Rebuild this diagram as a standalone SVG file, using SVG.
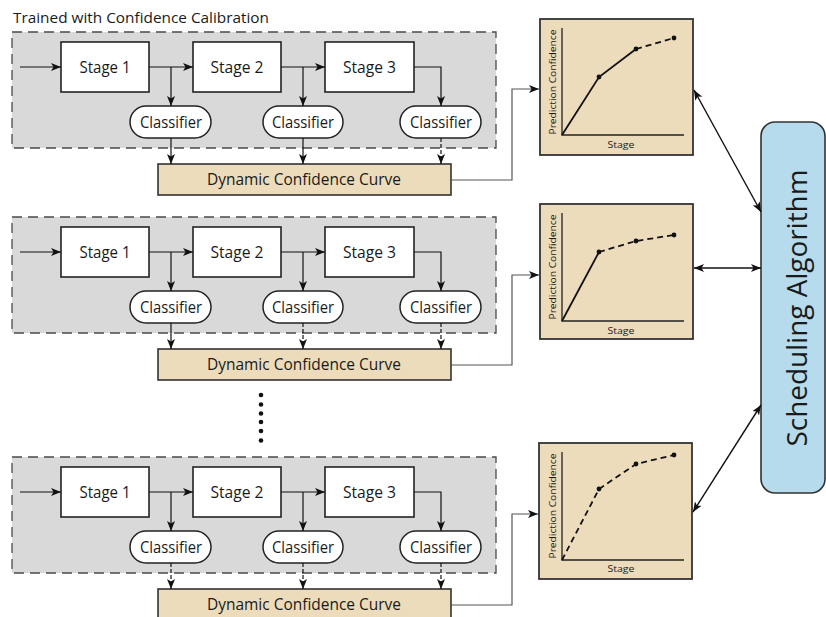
<svg xmlns="http://www.w3.org/2000/svg" width="826" height="617" viewBox="0 0 826 617">
  <style>
    text { font-family: "Open Sans", "Noto Sans", "DejaVu Sans", sans-serif; fill: #1a1a1a; }
    .group-box { fill: #d9d9d9; stroke: #4a4a4a; stroke-width: 1.3; stroke-dasharray: 10 6; }
    .stage { fill: #fff; stroke: #222; stroke-width: 1.6; }
    .clf { fill: #fff; stroke: #222; stroke-width: 1.5; }
    .dcc { fill: #ecdcbc; stroke: #333; stroke-width: 1.6; }
    .chart { fill: #ecdcbc; stroke: #333; stroke-width: 1.8; }
    .sched { fill: #b5dbec; stroke: #333; stroke-width: 1.6; }
    .lbl { font-size: 16px; text-anchor: middle; }
    .axis-lbl { font-size: 9.5px; text-anchor: middle; }
    .flow { fill: none; stroke: #111; stroke-width: 1.2; marker-end: url(#arr); }
    .flow-d { fill: none; stroke: #111; stroke-width: 1.2; stroke-dasharray: 4 2; marker-end: url(#arr); }
    .feed { fill: none; stroke: #555; stroke-width: 1.2; marker-end: url(#arr); }
    .bidir { fill: none; stroke: #111; stroke-width: 1.4; marker-start: url(#arr); marker-end: url(#arr); }
    .axis { fill: none; stroke: #222; stroke-width: 1.3; }
    .curve { fill: none; stroke: #111; stroke-width: 1.8; }
    .curve-d { fill: none; stroke: #111; stroke-width: 1.8; stroke-dasharray: 6 4; }
  </style>
  <defs>
    <marker id="arr" markerUnits="userSpaceOnUse" markerWidth="10" markerHeight="8" refX="10" refY="4" orient="auto-start-reverse">
      <path d="M0,0 L10,4 L0,8 L2.5,4 z" fill="#111"/>
    </marker>
  </defs>

  <text x="13" y="23" font-size="15" textLength="256" lengthAdjust="spacingAndGlyphs">Trained with Confidence Calibration</text>

  <!-- pipeline block 1 -->
  <g id="block1">
    <rect class="group-box" x="12" y="32" width="484" height="116"/>
    <g id="b1-stage1"><rect class="stage" x="61" y="42" width="88" height="50"/><text class="lbl" x="105" y="73" textLength="51" lengthAdjust="spacingAndGlyphs">Stage 1</text></g>
    <g id="b1-stage2"><rect class="stage" x="193" y="42" width="88" height="50"/><text class="lbl" x="237" y="73" textLength="53" lengthAdjust="spacingAndGlyphs">Stage 2</text></g>
    <g id="b1-stage3"><rect class="stage" x="325" y="42" width="89" height="50"/><text class="lbl" x="369.5" y="73" textLength="53" lengthAdjust="spacingAndGlyphs">Stage 3</text></g>
    <g id="b1-clf1"><rect class="clf" x="130" y="106" width="81" height="32" rx="16"/><text class="lbl" x="171" y="128" textLength="62" lengthAdjust="spacingAndGlyphs">Classifier</text></g>
    <g id="b1-clf2"><rect class="clf" x="263" y="106" width="80" height="32" rx="16"/><text class="lbl" x="303" y="128" textLength="62" lengthAdjust="spacingAndGlyphs">Classifier</text></g>
    <g id="b1-clf3"><rect class="clf" x="400" y="106" width="81" height="32" rx="16"/><text class="lbl" x="441" y="128" textLength="62" lengthAdjust="spacingAndGlyphs">Classifier</text></g>
    <g id="b1-dcc"><rect class="dcc" x="158" y="164" width="293" height="31"/><text class="lbl" x="304" y="185" textLength="194" lengthAdjust="spacingAndGlyphs">Dynamic Confidence Curve</text></g>
  </g>

  <!-- pipeline block 2 -->
  <g id="block2" transform="translate(0,185)">
    <rect class="group-box" x="12" y="32" width="484" height="116"/>
    <g id="b2-stage1"><rect class="stage" x="61" y="42" width="88" height="50"/><text class="lbl" x="105" y="73" textLength="51" lengthAdjust="spacingAndGlyphs">Stage 1</text></g>
    <g id="b2-stage2"><rect class="stage" x="193" y="42" width="88" height="50"/><text class="lbl" x="237" y="73" textLength="53" lengthAdjust="spacingAndGlyphs">Stage 2</text></g>
    <g id="b2-stage3"><rect class="stage" x="325" y="42" width="89" height="50"/><text class="lbl" x="369.5" y="73" textLength="53" lengthAdjust="spacingAndGlyphs">Stage 3</text></g>
    <g id="b2-clf1"><rect class="clf" x="130" y="106" width="81" height="32" rx="16"/><text class="lbl" x="171" y="128" textLength="62" lengthAdjust="spacingAndGlyphs">Classifier</text></g>
    <g id="b2-clf2"><rect class="clf" x="263" y="106" width="80" height="32" rx="16"/><text class="lbl" x="303" y="128" textLength="62" lengthAdjust="spacingAndGlyphs">Classifier</text></g>
    <g id="b2-clf3"><rect class="clf" x="400" y="106" width="81" height="32" rx="16"/><text class="lbl" x="441" y="128" textLength="62" lengthAdjust="spacingAndGlyphs">Classifier</text></g>
    <g id="b2-dcc"><rect class="dcc" x="158" y="164" width="293" height="31"/><text class="lbl" x="304" y="185" textLength="194" lengthAdjust="spacingAndGlyphs">Dynamic Confidence Curve</text></g>
  </g>

  <!-- vertical ellipsis between blocks -->
  <g id="ellipsis" fill="#111">
    <circle cx="261" cy="395" r="2.3"/><circle cx="261" cy="404.5" r="2.3"/><circle cx="261" cy="413.5" r="2.3"/>
    <circle cx="261" cy="422" r="2.3"/><circle cx="261" cy="431" r="2.3"/><circle cx="261" cy="440.5" r="2.3"/>
  </g>

  <!-- pipeline block 3 -->
  <g id="block3" transform="translate(0,425)">
    <rect class="group-box" x="12" y="32" width="484" height="116"/>
    <g id="b3-stage1"><rect class="stage" x="61" y="42" width="88" height="50"/><text class="lbl" x="105" y="73" textLength="51" lengthAdjust="spacingAndGlyphs">Stage 1</text></g>
    <g id="b3-stage2"><rect class="stage" x="193" y="42" width="88" height="50"/><text class="lbl" x="237" y="73" textLength="53" lengthAdjust="spacingAndGlyphs">Stage 2</text></g>
    <g id="b3-stage3"><rect class="stage" x="325" y="42" width="89" height="50"/><text class="lbl" x="369.5" y="73" textLength="53" lengthAdjust="spacingAndGlyphs">Stage 3</text></g>
    <g id="b3-clf1"><rect class="clf" x="130" y="106" width="81" height="32" rx="16"/><text class="lbl" x="171" y="128" textLength="62" lengthAdjust="spacingAndGlyphs">Classifier</text></g>
    <g id="b3-clf2"><rect class="clf" x="263" y="106" width="80" height="32" rx="16"/><text class="lbl" x="303" y="128" textLength="62" lengthAdjust="spacingAndGlyphs">Classifier</text></g>
    <g id="b3-clf3"><rect class="clf" x="400" y="106" width="81" height="32" rx="16"/><text class="lbl" x="441" y="128" textLength="62" lengthAdjust="spacingAndGlyphs">Classifier</text></g>
    <g id="b3-dcc"><rect class="dcc" x="158" y="164" width="293" height="31"/><text class="lbl" x="304" y="185" textLength="194" lengthAdjust="spacingAndGlyphs">Dynamic Confidence Curve</text></g>
  </g>

  <!-- confidence charts -->
  <g id="chart1">
    <rect class="chart" x="540" y="19" width="153" height="136"/>
    <path class="axis" d="M562,28 V135 H684"/>
    <path class="curve" d="M562,135 L599,77 L636,49"/>
    <path class="curve-d" d="M636,49 L674,38"/>
    <g fill="#111"><circle cx="599" cy="77" r="2.4"/><circle cx="636" cy="49" r="2.4"/><circle cx="674" cy="38" r="2.4"/></g>
    <text class="axis-lbl" x="621" y="148" textLength="27" lengthAdjust="spacingAndGlyphs">Stage</text>
    <text class="axis-lbl" transform="translate(556,82) rotate(-90)" textLength="105" lengthAdjust="spacingAndGlyphs">Prediction Confidence</text>
  </g>
  <g id="chart2">
    <rect class="chart" x="540" y="204" width="153" height="135"/>
    <path class="axis" d="M562,213 V321 H684"/>
    <path class="curve" d="M562,321 L599,252"/>
    <path class="curve-d" d="M599,252 L636,241 L674,235"/>
    <g fill="#111"><circle cx="599" cy="252" r="2.4"/><circle cx="636" cy="241" r="2.4"/><circle cx="674" cy="235" r="2.4"/></g>
    <text class="axis-lbl" x="621" y="334" textLength="27" lengthAdjust="spacingAndGlyphs">Stage</text>
    <text class="axis-lbl" transform="translate(556,267) rotate(-90)" textLength="105" lengthAdjust="spacingAndGlyphs">Prediction Confidence</text>
  </g>
  <g id="chart3">
    <rect class="chart" x="539" y="443" width="153" height="136"/>
    <path class="axis" d="M562,452 V560 H684"/>
    <path class="curve-d" d="M562,560 L599,489 L636,464 L674,455"/>
    <g fill="#111"><circle cx="599" cy="489" r="2.4"/><circle cx="636" cy="464" r="2.4"/><circle cx="674" cy="455" r="2.4"/></g>
    <text class="axis-lbl" x="621" y="572" textLength="27" lengthAdjust="spacingAndGlyphs">Stage</text>
    <text class="axis-lbl" transform="translate(556,506) rotate(-90)" textLength="105" lengthAdjust="spacingAndGlyphs">Prediction Confidence</text>
  </g>

  <!-- scheduler -->
  <g id="scheduler">
    <rect class="sched" x="761" y="122" width="64" height="371" rx="14"/>
    <text transform="translate(807,308) rotate(-90)" font-size="28" text-anchor="middle" textLength="277" lengthAdjust="spacingAndGlyphs">Scheduling Algorithm</text>
  </g>

  <!-- connectors -->
  <g id="connectors">
    <!-- block 1 -->
    <path class="flow" d="M20,67 H61"/>
    <path class="flow" d="M149,67 H193"/>
    <path class="flow" d="M171,67 V106"/>
    <path class="flow" d="M281,67 H325"/>
    <path class="flow" d="M303,67 V106"/>
    <path class="flow" d="M414,67 H441 V106"/>
    <path class="flow" d="M171,138 V164"/>
    <path class="flow" d="M303,138 V164"/>
    <path class="flow-d" d="M441,138 V164"/>
    <path class="feed" d="M451,180 H512 V89 H539"/>
    <!-- block 2 -->
    <path class="flow" d="M20,252 H61"/>
    <path class="flow" d="M149,252 H193"/>
    <path class="flow" d="M171,252 V291"/>
    <path class="flow" d="M281,252 H325"/>
    <path class="flow" d="M303,252 V291"/>
    <path class="flow" d="M414,252 H441 V291"/>
    <path class="flow" d="M171,323 V349"/>
    <path class="flow-d" d="M303,323 V349"/>
    <path class="flow-d" d="M441,323 V349"/>
    <path class="feed" d="M451,365 H512 V275 H539"/>
    <!-- block 3 -->
    <path class="flow" d="M20,492 H61"/>
    <path class="flow" d="M149,492 H193"/>
    <path class="flow" d="M171,492 V531"/>
    <path class="flow" d="M281,492 H325"/>
    <path class="flow" d="M303,492 V531"/>
    <path class="flow" d="M414,492 H441 V531"/>
    <path class="flow-d" d="M171,563 V589"/>
    <path class="flow-d" d="M303,563 V589"/>
    <path class="flow-d" d="M441,563 V589"/>
    <path class="feed" d="M451,605 H512 V514 H538"/>
    <!-- charts to scheduler -->
    <path class="bidir" d="M694,90 L761,212"/>
    <path class="bidir" d="M694,268 L761,268"/>
    <path class="bidir" d="M761,405 L693,512"/>
  </g>
</svg>
